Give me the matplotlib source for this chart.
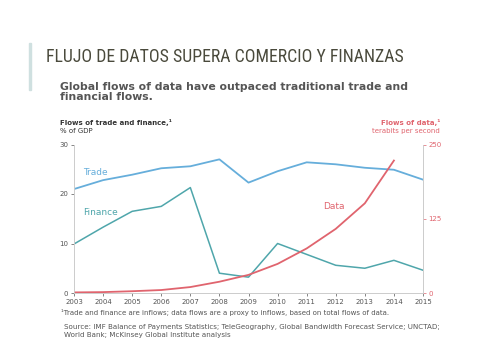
import matplotlib.pyplot as plt
from matplotlib.patches import Rectangle

years = list(range(2003, 2016))
trade = [21.0, 22.8, 23.9, 25.2, 25.6, 27.0, 22.3, 24.6, 26.4, 26.0, 25.3, 24.9, 22.9]
finance = [9.9, 13.3, 16.5, 17.5, 21.3, 4.0, 3.2, 10.0, 7.8, 5.6, 5.0, 6.6, 4.6]
data_years = list(range(2003, 2015))
data_flows = [1, 1.5, 3, 5, 10, 19, 30.5, 49, 75, 108, 151, 223]

blue = '#66aedb'
teal = '#4fa6ab'
red = '#e0646e'
grey = '#555555'

fig = plt.figure(figsize=(4.79, 3.57), dpi=100)

# slide decoration
fig.patches.append(Rectangle((29 / 479, 1 - 90 / 357), 2 / 479, 47 / 357,
                             transform=fig.transFigure, color='#cfe0e0'))
fig.text(46 / 479, 1 - 57 / 357, 'FLUJO DE DATOS SUPERA COMERCIO Y FINANZAS',
         family=['Roboto Condensed', 'Open Sans Condensed', 'Roboto'],
         fontstretch='condensed', fontsize=12.8,
         color='#4a4a3c', va='center', ha='left')
fig.text(60 / 479, 1 - 92 / 357,
         'Global flows of data have outpaced traditional trade and\nfinancial flows.',
         fontsize=7.8, color=grey, fontweight='bold', va='center', ha='left',
         linespacing=1.1)

fig.text(60 / 479, 1 - 122 / 357, 'Flows of trade and finance,¹', fontsize=5,
         fontweight='bold', color='#333333', va='center')
fig.text(60 / 479, 1 - 131 / 357, '% of GDP', fontsize=5, color='#333333', va='center')
fig.text(440 / 479, 1 - 122 / 357, 'Flows of data,¹', fontsize=5,
         fontweight='bold', color=red, va='center', ha='right')
fig.text(440 / 479, 1 - 131 / 357, 'terabits per second', fontsize=5, color=red,
         va='center', ha='right')

ax = fig.add_axes([74 / 479, 1 - 293 / 357, 349 / 479, 148.5 / 357])
ax.plot(years, trade, color=blue, lw=1.3)
ax.plot(years, finance, color=teal, lw=1.1)
ax.set_xlim(2003, 2015)
ax.set_ylim(0, 30)
ax.set_yticks([0, 10, 20, 30])
ax.set_xticks(years)
ax.tick_params(labelsize=5, colors=grey, length=2, width=0.5, pad=2)
ax.spines['top'].set_visible(False)
for s in ['left', 'bottom', 'right']:
    ax.spines[s].set_color('#cccccc')
    ax.spines[s].set_linewidth(0.6)

ax.text(2003.3, 24.4, 'Trade', color=blue, fontsize=6.5, va='center')
ax.text(2003.3, 16.3, 'Finance', color=teal, fontsize=6.5, va='center')

ax2 = ax.twinx()
ax2.plot(data_years, data_flows, color=red, lw=1.3)
ax2.set_ylim(0, 250)
ax2.set_yticks([0, 125, 250])
ax2.tick_params(labelsize=5, colors=red, length=2, width=0.5, pad=2)
ax2.spines['top'].set_visible(False)
for s in ['left', 'bottom', 'right']:
    ax2.spines[s].set_color('#cccccc')
    ax2.spines[s].set_linewidth(0.6)
ax2.text(2011.55, 145, 'Data', color=red, fontsize=6.5, va='center')

fig.text(61 / 479, 1 - 313 / 357,
         '¹Trade and finance are inflows; data flows are a proxy to inflows, based on total flows of data.',
         fontsize=5.0, color=grey, va='center')
fig.text(64 / 479, 1 - 331 / 357,
         'Source: IMF Balance of Payments Statistics; TeleGeography, Global Bandwidth Forecast Service; UNCTAD;\nWorld Bank; McKinsey Global Institute analysis',
         fontsize=5.15, color=grey, va='center', linespacing=1.25)

fig.savefig('out.png', dpi=100)
